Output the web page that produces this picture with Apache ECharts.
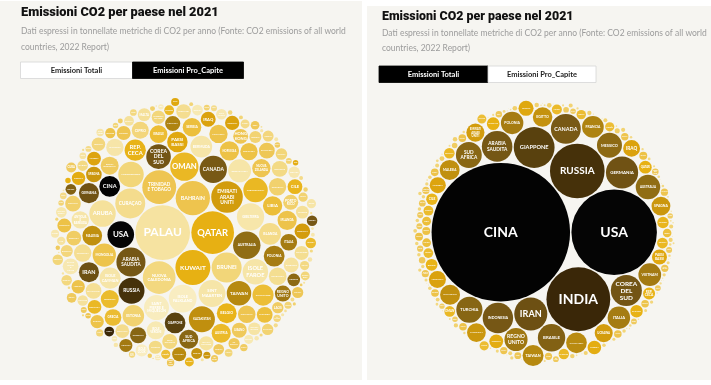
<!DOCTYPE html>
<html><head><meta charset="utf-8">
<script src="https://cdn.jsdelivr.net/npm/echarts@6/dist/echarts.min.js"></script>
<style>html,body{margin:0;padding:0;background:#fff;}#c{width:711px;height:385px;}</style>
</head><body><div id="c"></div>
<script>
// ---------------- DATA (Mt CO2 totals, t CO2 per capita, 2021) ----------------
const countries = [
"Cina","USA","India","Russia","Giappone","Iran","Germania","Corea del Sud","Arabia Saudita","Indonesia",
"Canada","Brasile","Turchia","Sud Africa","Messico","Australia","Regno Unito","Vietnam","Italia","Polonia",
"Francia","Taiwan","Thailandia","Kazakistan","Malesia","Egitto","Spagna","Pakistan","Emirati Arabi Uniti","Ucraina",
"Argentina","Iraq","Algeria","Filippine","Paesi Bassi","Uzbekistan","Nigeria","Qatar","Kuwait","Bangladesh",
"Rep. Ceca","Belgio","Cile","Colombia","Turkmenistan","Oman","Romania","Marocco","Austria","Venezuela",
"Bielorussia","Grecia","Israele","Perù","Singapore","Libia","Ungheria","Serbia","Bulgaria","Norvegia",
"Portogallo","Svezia","Ecuador","Finlandia","Azerbaigian","Irlanda","Mongolia","Bahrain","Svizzera","Slovacchia",
"Nuova Zelanda","Myanmar","Hong Kong","Trinidad e Tobago","Tunisia","Danimarca","Corea del Nord","Siria","Rep. Dominicana","Libano",
"Giordania","Angola","Bolivia","Sri Lanka","Cuba","Kenya","Bosnia Erzegovina","Sudan","Guatemala","Ghana",
"Laos","Croazia","Etiopia","Nepal","Porto Rico","Lituania","Slovenia","Estonia","Costa d'Avorio","Tanzania",
"Yemen","Kirghizistan","Zimbabwe","Panama","Georgia","Cambogia","Honduras","Mozambico","Senegal","Tagikistan",
"Camerun","Zambia","Lussemburgo","Brunei","Paraguay","Uruguay","Costa Rica","Afghanistan","Giamaica","Benin",
"Papua Nuova Guinea","Macedonia del Nord","El Salvador","Lettonia","Botswana","Cipro","Armenia","Moldavia","Nicaragua","Guinea Equatoriale",
"Nuova Caledonia","Uganda","Albania","Gabon","Burkina Faso","Mali","Riunione","Mauritius","Congo","Namibia",
"Mauritania","Guinea","Congo RDC","Madagascar","Islanda","Palestina","Haiti","Niger","Togo","Guyana",
"Curaçao","Suriname","Montenegro","Guadalupa","Martinica","Ciad","Bahamas","Malta","Sud Sudan","Maldive",
"Aruba","Macao","Bhutan","Malawi","Barbados","Fiji","Ruanda","Guyana Francese","Sierra Leone","Liberia",
"Eswatini","Palau","Polinesia Francese","Isole Faroe","Eritrea","Somalia","Belize","Capo Verde","Gambia","Seychelles",
"Antigua e Barbuda","Groenlandia","Bermuda","Isole Cayman","Sint Maarten","Timor Est","Burundi","Lesotho","Gibilterra","Gibuti",
"Rep. Centrafricana","Isole Salomone","Samoa","Grenada","Santa Lucia","Guinea-Bissau","Saint Vincent","Saint Kitts e Nevis","Vanuatu","Comore",
"Dominica","Tonga","Isole Vergini","São Tomé","Kiribati","Saint Pierre e Miquelon","Isole Falkland","Isole Cook"
];
const totals = [
12466,4752,2648,1942,1084,711,674,626,607,602,
580,489,446,435,407,391,347,336,329,328,
306,286,278,259,258,249,231,230,214,212,
188,186,168,148,147,124,120,106,105,100,
94,91,86,84,75,73,73,70,65,63,
61,58,55,55,53,51,49,48,41,41,
40,38,38,37,37,37,36,35,34,34,
34,34,33,33,30,29,28,27,27,25,
24,23,23,22,22,22,21,20,20,20,
19,18,17,15,14,14,13,12,13,13,
12,11,11,11,11,11,10,10,10,10,
9,8,8,8,8,8,8,8,8,8,
8,7.5,7,7,7,7,7,6,6,6,
6,6,5,5,5,5,4.5,4.5,4,4,
4,4,4,4,3.7,3.5,3.5,3,3,3,
3,2.6,2.5,2.5,2.3,2,2,1.7,1.7,1.7,
1.5,1.5,1.5,1.4,1.3,1.3,1.2,1.2,1,1,
1.1,1.1,0.9,0.7,0.7,0.7,0.7,0.6,0.6,0.6,
0.6,0.6,0.6,0.6,0.6,0.6,0.6,0.6,0.5,0.5,
0.3,0.3,0.3,0.3,0.4,0.3,0.3,0.25,0.2,0.3,
0.2,0.2,0.2,0.15,0.07,0.07,0.05,0.05
];
const perCapita = [
8.7,14.2,1.9,13.5,8.6,8.1,8.1,12.1,17.0,2.2,
14.9,2.3,5.2,7.3,3.2,15.1,5.1,3.4,5.6,8.7,
4.6,12.0,3.9,13.6,7.8,2.4,4.9,1.0,20.0,4.9,
4.1,4.5,3.8,1.3,8.4,3.6,0.6,36.5,24.5,0.6,
9.0,7.9,4.4,1.6,12.0,16.0,3.8,1.9,7.3,2.2,
6.5,5.6,6.3,1.7,9.0,7.5,5.0,6.9,6.0,7.5,
3.9,3.6,2.1,6.7,3.6,7.4,10.9,23.5,3.9,6.2,
6.7,0.6,4.4,23.0,2.5,5.0,1.1,1.5,2.5,4.5,
2.3,0.7,1.9,1.0,2.0,0.4,6.5,0.4,1.1,0.6,
2.6,4.4,0.15,0.5,4.5,4.9,6.1,9.3,0.5,0.2,
0.4,1.7,0.7,2.6,2.9,0.7,1.0,0.3,0.6,1.0,
0.3,0.4,13.0,18.0,1.2,2.2,1.6,0.2,2.7,0.6,
0.8,3.6,1.1,3.7,2.9,5.8,2.4,2.2,0.9,4.6,
21.5,0.1,1.7,2.2,0.2,0.2,5.0,3.5,0.7,1.6,
0.9,0.3,0.04,0.13,9.5,0.7,0.3,0.1,0.35,3.8,
18.0,4.3,4.0,6.2,6.1,0.1,5.0,3.3,0.15,3.3,
14.0,2.2,1.9,0.07,4.5,1.4,0.09,4.1,0.12,0.2,
0.9,60.0,3.2,13.0,0.2,0.04,1.7,1.1,0.2,6.0,
6.0,10.5,9.5,9.0,14.5,0.4,0.05,0.3,15.0,0.4,
0.06,0.4,1.3,2.6,2.3,0.15,2.3,5.0,0.6,0.3,
2.3,1.6,6.5,0.6,0.6,12.5,15.5,3.0
];
const titleText = "Emissioni CO2 per paese nel 2021";
const subLine1 = "Dati espressi in tonnellate metriche di CO2 per anno (Fonte: CO2 emissions of all world";
const subLine2 = "countries, 2022 Report)";
const btnTotal = "Emissioni Totali";
const btnPerCap = "Emissioni Pro_Capite";

// ---------------- circle packing (front-chain, as in d3.packSiblings) ----------------
function place(b, a, c) {
  var dx = b.x - a.x, x, a2, dy = b.y - a.y, y, b2, d2 = dx * dx + dy * dy;
  if (d2) {
    a2 = a.r + c.r; a2 *= a2;
    b2 = b.r + c.r; b2 *= b2;
    if (a2 > b2) {
      x = (d2 + b2 - a2) / (2 * d2);
      y = Math.sqrt(Math.max(0, b2 / d2 - x * x));
      c.x = b.x - x * dx - y * dy;
      c.y = b.y - x * dy + y * dx;
    } else {
      x = (d2 + a2 - b2) / (2 * d2);
      y = Math.sqrt(Math.max(0, a2 / d2 - x * x));
      c.x = a.x + x * dx - y * dy;
      c.y = a.y + x * dy + y * dx;
    }
  } else { c.x = a.x + c.r; c.y = a.y; }
}
function intersects(a, b) {
  var dr = a.r + b.r - 1e-6, dx = b.x - a.x, dy = b.y - a.y;
  return dr > 0 && dr * dr > dx * dx + dy * dy;
}
function score(node) {
  var a = node._, b = node.next._, ab = a.r + b.r,
      dx = (a.x * b.r + b.x * a.r) / ab, dy = (a.y * b.r + b.y * a.r) / ab;
  return dx * dx + dy * dy;
}
function Node(c) { this._ = c; this.next = null; this.previous = null; }
function packSiblings(circles) {
  var n = circles.length, a, b, c, aa, ca, i, j, k, sj, sk;
  if (!n) return;
  a = circles[0]; a.x = 0; a.y = 0;
  if (n < 2) return;
  b = circles[1]; a.x = -b.r; b.x = a.r; b.y = 0;
  if (n < 3) return;
  place(b, a, c = circles[2]);
  a = new Node(a); b = new Node(b); c = new Node(c);
  a.next = c.previous = b; b.next = a.previous = c; c.next = b.previous = a;
  pack: for (i = 3; i < n; ++i) {
    place(a._, b._, c = circles[i]); c = new Node(c);
    j = b.next; k = a.previous; sj = b._.r; sk = a._.r;
    do {
      if (sj <= sk) {
        if (intersects(j._, c._)) { b = j; a.next = b; b.previous = a; --i; continue pack; }
        sj += j._.r; j = j.next;
      } else {
        if (intersects(k._, c._)) { a = k; a.next = b; b.previous = a; --i; continue pack; }
        sk += k._.r; k = k.previous;
      }
    } while (j !== k.next);
    c.previous = a; c.next = b; a.next = b.previous = b = c;
    aa = score(a);
    while ((c = c.next) !== b) { if ((ca = score(c)) < aa) { a = c; aa = ca; } }
    b = a.next;
  }
}
function packLayout(values, pxRadius, gapPx) {
  const order = values.map((v, i) => i).sort((p, q) => values[q] - values[p]);
  function run(pad) {
    const cs = order.map(i => ({ i: i, r0: Math.sqrt(values[i]), r: Math.sqrt(values[i]) + pad, x: 0, y: 0 }));
    packSiblings(cs);
    let minx = Infinity, maxx = -Infinity, miny = Infinity, maxy = -Infinity;
    cs.forEach(c => { minx = Math.min(minx, c.x - c.r); maxx = Math.max(maxx, c.x + c.r); miny = Math.min(miny, c.y - c.r); maxy = Math.max(maxy, c.y + c.r); });
    let cx = (minx + maxx) / 2, cy = (miny + maxy) / 2;
    for (let it = 1; it < 3000; it++) {
      let far = null, fd = -1;
      cs.forEach(c => { const d = Math.hypot(c.x - cx, c.y - cy) + c.r; if (d > fd) { fd = d; far = c; } });
      const dd = Math.hypot(far.x - cx, far.y - cy) || 1;
      const px = far.x + (far.x - cx) / dd * far.r, py = far.y + (far.y - cy) / dd * far.r;
      cx += (px - cx) / (it + 1) * 0.5; cy += (py - cy) / (it + 1) * 0.5;
    }
    let R = 0;
    cs.forEach(c => { R = Math.max(R, Math.hypot(c.x - cx, c.y - cy) + c.r); });
    return { cs: cs, cx: cx, cy: cy, R: R };
  }
  const first = run(0);
  const pad = (gapPx / 2) * first.R / pxRadius;
  return run(pad);
}

// ---------------- colours by total emissions (log scale) ----------------
const colorStops = [[-1.5,'#f9eec6'],[0,'#f6e4a3'],[1,'#f2d475'],[1.5,'#eec654'],[1.8,'#ebbb2c'],[2,'#e8b214'],[2.3,'#d9a00c'],[2.45,'#b88a10'],[2.6,'#8e6b14'],[2.8,'#735515'],[3.0,'#5c430f'],[3.3,'#45300a'],[3.45,'#382508'],[3.6,'#050505'],[5,'#000000']];
function colorFor(t) {
  const v = Math.log10(t);
  if (v <= colorStops[0][0]) return colorStops[0][1];
  for (let s = 1; s < colorStops.length; s++) {
    if (v <= colorStops[s][0]) {
      const f = (v - colorStops[s-1][0]) / (colorStops[s][0] - colorStops[s-1][0]);
      return echarts.color.lerp(f, [colorStops[s-1][1], colorStops[s][1]]);
    }
  }
  return '#000';
}
function wrapName(s) {
  const words = s.toUpperCase().split(' ');
  const target = Math.max.apply(null, words.map(w => w.length));
  const lines = [];
  let cur = '';
  words.forEach(w => {
    if (!cur) cur = w;
    else if ((cur + ' ' + w).length <= target) cur += ' ' + w;
    else { lines.push(cur); cur = w; }
  });
  if (cur) lines.push(cur);
  return lines;
}
function renderBubble(params, api) {
  const p = api.coord([api.value(0), api.value(1)]);
  const r0 = api.value(2);
  const sz = api.size([r0, r0]);
  const r = Math.abs(sz[0]);
  const i = api.value(3);
  const children = [{ type: 'circle', shape: { cx: p[0], cy: p[1], r: r }, style: { fill: colorFor(totals[i]) } }];
  if (r >= 2.6) {
    const lines = wrapName(countries[i]);
    const maxLen = Math.max.apply(null, lines.map(l => l.length));
    const fs = Math.min(14, 2.2 * r / maxLen, 0.6 * r, 1.25 * r / lines.length);
    children.push({ type: 'text', style: { text: lines.join('\n'), x: p[0], y: p[1], align: 'center', verticalAlign: 'middle',
      fill: '#ffffff', fontSize: fs, lineHeight: fs * 1.1, fontWeight: 'bold', fontFamily: 'Lato' } });
  }
  return { type: 'group', children: children };
}

const leftPack = packLayout(perCapita, 136, 1.4);
const rightPack = packLayout(totals, 134, 1.4);
function toData(pk) { return pk.cs.map(c => [c.x, c.y, c.r0, c.i]); }

const gridL = { left: 48, top: 97, width: 272, height: 272 };
const gridR = { left: 408, top: 99, width: 268, height: 268 };

function panelGraphics(titleX, titleY, titleSize, subY1, subY2, btnY, btnX1, btnW1, btnW2, totalActive) {
  const els = [];
  els.push({ type: 'text', x: titleX, y: titleY, style: { text: titleText, fill: '#111111', font: '900 ' + titleSize + 'px Roboto', verticalAlign: 'middle' } });
  els.push({ type: 'text', x: titleX, y: subY1, style: { text: subLine1, fill: '#9c9c9c', font: '8.5px Lato', verticalAlign: 'middle' } });
  els.push({ type: 'text', x: titleX, y: subY2, style: { text: subLine2, fill: '#9c9c9c', font: '8.5px Lato', verticalAlign: 'middle' } });
  const h = 16.5;
  const b1Fill = totalActive ? '#000000' : '#ffffff';
  const b2Fill = totalActive ? '#ffffff' : '#000000';
  els.push({ type: 'rect', shape: { x: btnX1, y: btnY, width: btnW1, height: h }, style: { fill: b1Fill, stroke: totalActive ? '#000' : '#d6d6d6', lineWidth: 0.8 } });
  els.push({ type: 'rect', shape: { x: btnX1 + btnW1, y: btnY, width: btnW2, height: h }, style: { fill: b2Fill, stroke: totalActive ? '#d6d6d6' : '#000', lineWidth: 0.8 } });
  els.push({ type: 'text', x: btnX1 + btnW1 / 2, y: btnY + h / 2, style: { text: btnTotal, fill: totalActive ? '#fff' : '#222', font: 'bold 7.5px Lato', align: 'center', verticalAlign: 'middle' } });
  els.push({ type: 'text', x: btnX1 + btnW1 + btnW2 / 2, y: btnY + h / 2, style: { text: btnPerCap, fill: totalActive ? '#222' : '#fff', font: 'bold 7.5px Lato', align: 'center', verticalAlign: 'middle' } });
  return els;
}

const chart = echarts.init(document.getElementById('c'), null, { renderer: 'canvas' });
const graphics = [
  { type: 'rect', z: -10, shape: { x: 0, y: 1, width: 362, height: 379 }, style: { fill: '#f6f5f1' } },
  { type: 'rect', z: -10, shape: { x: 367, y: 6, width: 344, height: 374 }, style: { fill: '#f6f5f1' } }
].concat(panelGraphics(21, 13, 12.8, 31, 47, 62, 20.5, 112, 111, false))
 .concat(panelGraphics(382, 17, 12.4, 33.5, 48.5, 66, 379, 109, 108, true));

chart.setOption({
  animation: false,
  backgroundColor: '#ffffff',
  graphic: { elements: graphics },
  grid: [gridL, gridR],
  xAxis: [
    { gridIndex: 0, type: 'value', show: false, min: leftPack.cx - leftPack.R, max: leftPack.cx + leftPack.R },
    { gridIndex: 1, type: 'value', show: false, min: rightPack.cx - rightPack.R, max: rightPack.cx + rightPack.R }
  ],
  yAxis: [
    { gridIndex: 0, type: 'value', show: false, inverse: true, min: leftPack.cy - leftPack.R, max: leftPack.cy + leftPack.R },
    { gridIndex: 1, type: 'value', show: false, inverse: true, min: rightPack.cy - rightPack.R, max: rightPack.cy + rightPack.R }
  ],
  series: [
    { type: 'custom', name: 'Emissioni Pro_Capite', xAxisIndex: 0, yAxisIndex: 0, clip: false, renderItem: renderBubble, data: toData(leftPack), z: 5 },
    { type: 'custom', name: 'Emissioni Totali', xAxisIndex: 1, yAxisIndex: 1, clip: false, renderItem: renderBubble, data: toData(rightPack), z: 5 }
  ]
});
</script>
</body></html>
